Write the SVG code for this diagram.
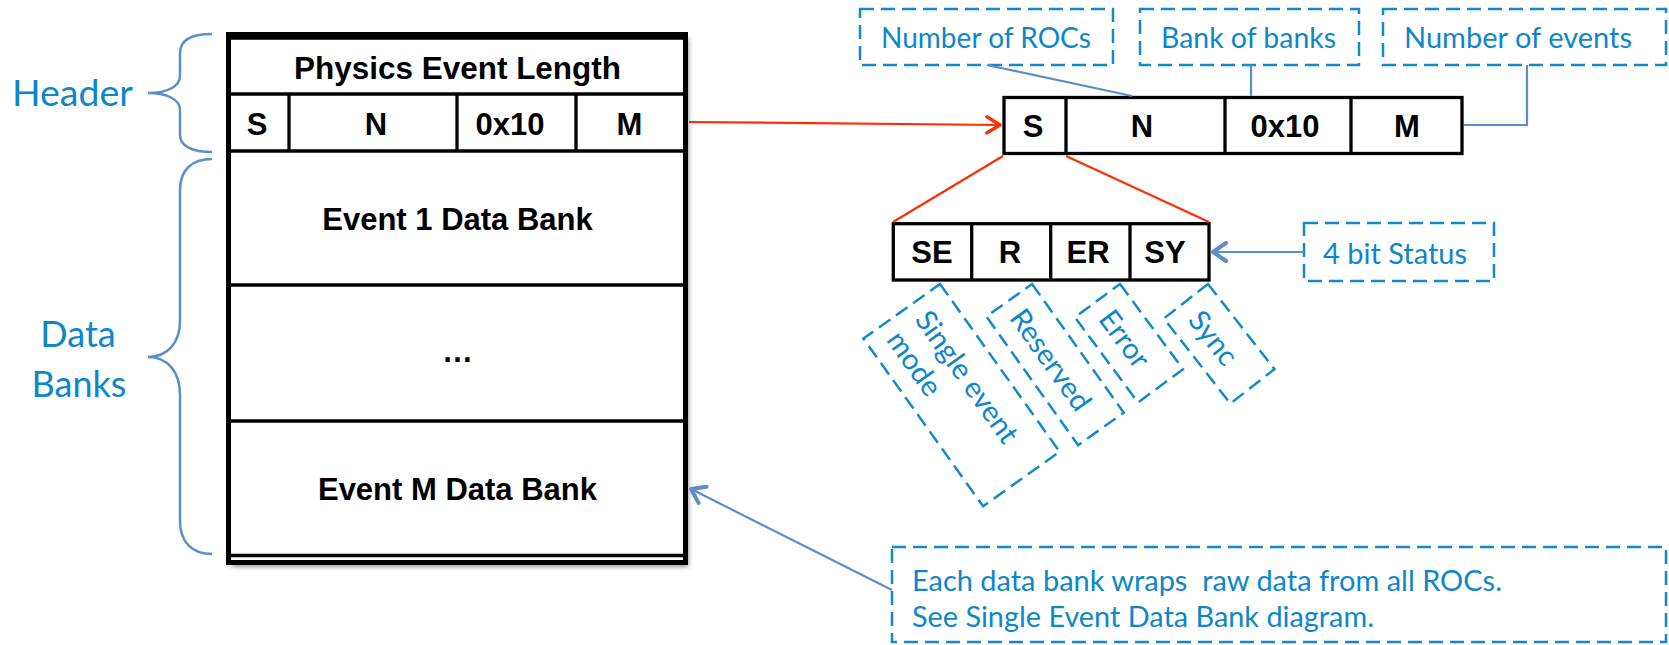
<svg xmlns="http://www.w3.org/2000/svg" width="1669" height="645" viewBox="0 0 1669 645">
<defs>
<style>
.bt{font-family:"Liberation Sans",Arial,sans-serif;font-weight:bold;font-size:31px;fill:#000;text-anchor:middle}
.lt{font-family:Lato,"Open Sans",sans-serif;fill:#0E86CA;font-size:29px}
.big{font-size:36px}
.note{font-size:28px}
.ln{fill:none;stroke:#000;stroke-width:3.3}
.frame{fill:none;stroke:#000;stroke-width:5}
.dash{fill:none;stroke:#1589CD;stroke-width:2.5;stroke-dasharray:14 7}
.brace{fill:none;stroke:#5B8FCA;stroke-width:2.5}
.conn{fill:none;stroke:#5B8DC8;stroke-width:2.2}
.red{fill:none;stroke:#FF2E00;stroke-width:2.2}
</style>
<marker id="ahr" markerUnits="userSpaceOnUse" viewBox="0 0 20 24" refX="18" refY="12" markerWidth="20" markerHeight="24" orient="auto">
<path d="M5,4 L18,12 L5,20" fill="none" stroke="#FF2E00" stroke-width="3.5" stroke-linecap="round" stroke-linejoin="round"/>
</marker>
<marker id="ahb" markerUnits="userSpaceOnUse" viewBox="0 0 20 24" refX="18" refY="12" markerWidth="20" markerHeight="24" orient="auto">
<path d="M5,3 L18,12 L5,21" fill="none" stroke="#5B8DC8" stroke-width="4" stroke-linecap="round" stroke-linejoin="round"/>
</marker>
<filter id="sh" x="-5%" y="-5%" width="115%" height="115%">
<feDropShadow dx="3" dy="4" stdDeviation="2.5" flood-color="#000" flood-opacity="0.45"/>
</filter>
</defs>
<rect width="1669" height="645" fill="#fff"/>

<g id="header-brace">
<path class="brace" d="M212,34 C192,34 180,40 180,53 L180,76 C180,86 168,93 148,93 C168,93 180,100 180,110 L180,135 C180,146 192,152 212,152"/>
<text class="lt big" x="12" y="106" textLength="121" lengthAdjust="spacingAndGlyphs">Header</text>
</g>
<g id="databanks-brace">
<path class="brace" d="M212,159 C192,159 180,170 180,190 L180,321 C180,342 168,357 148,357 C168,357 180,372 180,395 L180,521 C180,542 192,554 212,554"/>
<text class="lt big" x="78" y="347" text-anchor="middle">Data</text>
<text class="lt big" x="79" y="397" text-anchor="middle">Banks</text>
</g>

<g id="physics-event">
<rect x="228.5" y="34.5" width="457" height="528" fill="#fff" filter="url(#sh)"/>
<line class="ln" x1="228" y1="38" x2="686" y2="38"/>
<line class="ln" x1="228" y1="94" x2="686" y2="94"/>
<line class="ln" x1="228" y1="151" x2="686" y2="151"/>
<line class="ln" x1="228" y1="285" x2="686" y2="285"/>
<line class="ln" x1="228" y1="421" x2="686" y2="421"/>
<line class="ln" x1="228" y1="555.5" x2="686" y2="555.5"/>
<line class="ln" x1="289" y1="94" x2="289" y2="151"/>
<line class="ln" x1="457" y1="94" x2="457" y2="151"/>
<line class="ln" x1="576" y1="94" x2="576" y2="151"/>
<rect class="frame" x="228.5" y="34.5" width="457" height="528"/>
<text class="bt" x="457.5" y="79" textLength="327" lengthAdjust="spacingAndGlyphs">Physics Event Length</text>
<text class="bt" x="257" y="135">S</text>
<text class="bt" x="376" y="135">N</text>
<text class="bt" x="510" y="135">0x10</text>
<text class="bt" x="629.5" y="135">M</text>
<text class="bt" x="457.5" y="230">Event 1 Data Bank</text>
<text class="bt" x="457.5" y="362">…</text>
<text class="bt" x="457.5" y="500">Event M Data Bank</text>
</g>

<g id="bank-header">
<rect class="ln" x="1004" y="97.5" width="458" height="56" fill="#fff" stroke-width="3.8"/>
<line class="ln" x1="1066" y1="97.5" x2="1066" y2="153.5"/>
<line class="ln" x1="1225" y1="97.5" x2="1225" y2="153.5"/>
<line class="ln" x1="1351" y1="97.5" x2="1351" y2="153.5"/>
<text class="bt" x="1033" y="137">S</text>
<text class="bt" x="1142" y="137">N</text>
<text class="bt" x="1285" y="137">0x10</text>
<text class="bt" x="1407" y="137">M</text>
</g>

<g id="status-bits">
<rect class="ln" x="893.3" y="223.7" width="315.7" height="56.3" fill="#fff" stroke-width="3.8"/>
<line class="ln" x1="971.7" y1="223.7" x2="971.7" y2="280"/>
<line class="ln" x1="1050.7" y1="223.7" x2="1050.7" y2="280"/>
<line class="ln" x1="1130" y1="223.7" x2="1130" y2="280"/>
<text class="bt" x="932" y="263">SE</text>
<text class="bt" x="1010" y="263">R</text>
<text class="bt" x="1088" y="263">ER</text>
<text class="bt" x="1165" y="263">SY</text>
</g>

<g id="label-rocs">
<rect class="dash" x="860" y="9" width="253" height="56"/>
<text class="lt" x="881" y="48" textLength="210" lengthAdjust="spacingAndGlyphs">Number of ROCs</text>
</g>
<g id="label-bank">
<rect class="dash" x="1140" y="9" width="219" height="56"/>
<text class="lt" x="1161" y="48" textLength="175" lengthAdjust="spacingAndGlyphs">Bank of banks</text>
</g>
<g id="label-events">
<rect class="dash" x="1383" y="9" width="283" height="56"/>
<text class="lt" x="1404" y="48" textLength="228" lengthAdjust="spacingAndGlyphs">Number of events</text>
</g>
<g id="label-status">
<rect class="dash" x="1304" y="223" width="190" height="58"/>
<text class="lt" x="1323" y="264" textLength="144" lengthAdjust="spacingAndGlyphs">4 bit Status</text>
</g>

<g id="label-single" transform="translate(940,284) rotate(54.5)">
<rect class="dash" x="0" y="0" width="206" height="94"/>
<text class="lt" x="14" y="42">Single event</text>
<text class="lt" x="14" y="77">mode</text>
</g>
<g id="label-reserved" transform="translate(1032,284) rotate(54.5)">
<rect class="dash" x="0" y="0" width="158" height="56"/>
<text class="lt" x="14" y="39">Reserved</text>
</g>
<g id="label-error" transform="translate(1120,284) rotate(53.5)">
<rect class="dash" x="0" y="0" width="106" height="56"/>
<text class="lt" x="15" y="39">Error</text>
</g>
<g id="label-sync" transform="translate(1208,284) rotate(52)">
<rect class="dash" x="0" y="0" width="108" height="56"/>
<text class="lt" x="16" y="39">Sync</text>
</g>

<g id="label-note">
<rect class="dash" x="892" y="547" width="774" height="95"/>
<text class="lt note" x="912" y="591" xml:space="preserve" textLength="590" lengthAdjust="spacingAndGlyphs">Each data bank wraps  raw data from all ROCs.</text>
<text class="lt note" x="912" y="627" textLength="462" lengthAdjust="spacingAndGlyphs">See Single Event Data Bank diagram.</text>
</g>

<g id="connectors">
<line class="red" x1="689" y1="122" x2="1000" y2="125" marker-end="url(#ahr)"/>
<line class="red" x1="1003" y1="156" x2="893" y2="222"/>
<line class="red" x1="1066" y1="156" x2="1209" y2="222"/>
<line class="conn" x1="987" y1="65" x2="1132" y2="96"/>
<line class="conn" x1="1251" y1="65" x2="1251" y2="96"/>
<polyline class="conn" points="1527,65 1527,125 1464,125"/>
<line class="conn" x1="1304" y1="252" x2="1213" y2="252" marker-end="url(#ahb)"/>
<line class="conn" x1="892" y1="590" x2="691" y2="489" marker-end="url(#ahb)"/>
</g>
</svg>
